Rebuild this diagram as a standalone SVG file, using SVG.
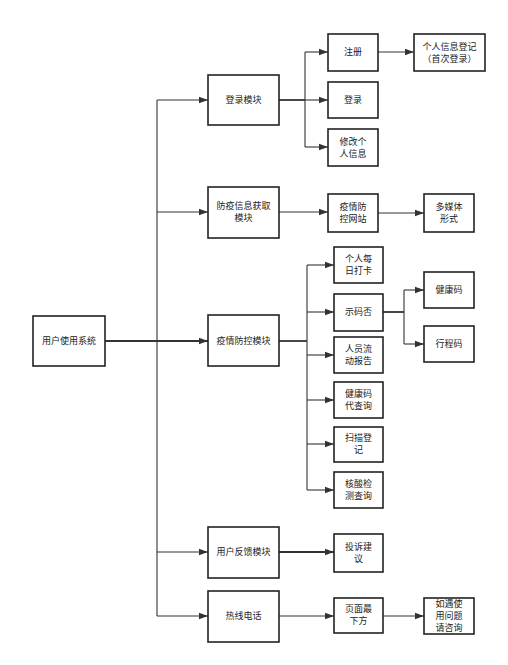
<svg xmlns="http://www.w3.org/2000/svg" width="508" height="665" viewBox="0 0 508 665">
<style>
.box{fill:#fff;stroke:#222;stroke-width:1.6}
.t{font-family:"Noto Sans CJK SC","Noto Sans",sans-serif;font-size:9px;fill:#222;text-anchor:middle}
.c{fill:none;stroke:#333;stroke-width:1.1}
.a{fill:none;stroke:#333;stroke-width:1.1;marker-end:url(#ar)}
.thick{stroke-width:1.8}
</style>
<defs>
<marker id="ar" markerUnits="userSpaceOnUse" markerWidth="10" markerHeight="8" refX="9" refY="4" orient="auto">
<path d="M0,0.8 L9,4 L0,7.2 z" fill="#333"/>
</marker>
</defs>
<rect width="508" height="665" fill="#fff"/>
<g id="connectors">
<path class="c thick" d="M105,341 H157"/>
<path class="c" d="M157,100 V616"/>
<path class="a" d="M157,100 H208"/>
<path class="a" d="M157,212 H208"/>
<path class="a thick" d="M157,341 H208"/>
<path class="a" d="M157,552 H208"/>
<path class="a" d="M157,616 H208"/>
<path class="c thick" d="M279,100 H305"/>
<path class="c" d="M305,52 V147"/>
<path class="a" d="M305,52 H328"/>
<path class="a" d="M305,100 H328"/>
<path class="a" d="M305,147 H328"/>
<path class="a" d="M378,52 H414"/>
<path class="a" d="M279,212 H328"/>
<path class="a" d="M378,213 H424"/>
<path class="c thick" d="M279,341 H307"/>
<path class="c" d="M307,265 V490"/>
<path class="a" d="M307,265 H334"/>
<path class="a" d="M307,312 H334"/>
<path class="a" d="M307,355 H334"/>
<path class="a" d="M307,400 H334"/>
<path class="a" d="M307,444 H334"/>
<path class="a" d="M307,490 H334"/>
<path class="c thick" d="M383,312 H404"/>
<path class="c" d="M404,290 V344"/>
<path class="a" d="M404,290 H424"/>
<path class="a" d="M404,344 H424"/>
<path class="a thick" d="M279,552 H334"/>
<path class="a" d="M279,616 H334"/>
<path class="a" d="M383,616 H424"/>
</g>
<g id="root"><rect class="box" x="33" y="316" width="72" height="50"/><text class="t" x="69" y="344">用户使用系统</text></g>
<g id="login"><rect class="box" x="208" y="75" width="71" height="50"/><text class="t" x="243.5" y="103">登录模块</text></g>
<g id="info"><rect class="box" x="208" y="187" width="71" height="51"/><text class="t" x="243.5" y="209">防疫信息获取</text><text class="t" x="243.5" y="221">模块</text></g>
<g id="control"><rect class="box" x="208" y="315" width="71" height="51"/><text class="t" x="243.5" y="344">疫情防控模块</text></g>
<g id="feedback"><rect class="box" x="208" y="527" width="71" height="51"/><text class="t" x="243.5" y="555">用户反馈模块</text></g>
<g id="hotline"><rect class="box" x="208" y="591" width="71" height="51"/><text class="t" x="243.5" y="619">热线电话</text></g>
<g id="register"><rect class="box" x="328" y="34" width="50" height="37"/><text class="t" x="353" y="55">注册</text></g>
<g id="signin"><rect class="box" x="328" y="82" width="50" height="36"/><text class="t" x="353" y="103">登录</text></g>
<g id="modify"><rect class="box" x="328" y="129" width="50" height="37"/><text class="t" x="353" y="145">修改个</text><text class="t" x="353" y="157">人信息</text></g>
<g id="personal"><rect class="box" x="414" y="34" width="71" height="37"/><text class="t" x="449.5" y="50">个人信息登记</text><text class="t" x="449.5" y="62">（首次登录）</text></g>
<g id="site"><rect class="box" x="328" y="194" width="50" height="38"/><text class="t" x="353" y="210">疫情防</text><text class="t" x="353" y="222">控网站</text></g>
<g id="media"><rect class="box" x="424" y="194" width="50" height="38"/><text class="t" x="449" y="210">多媒体</text><text class="t" x="449" y="222">形式</text></g>
<g id="daily"><rect class="box" x="334" y="247" width="49" height="36"/><text class="t" x="358.5" y="262">个人每</text><text class="t" x="358.5" y="274">日打卡</text></g>
<g id="code"><rect class="box" x="334" y="294" width="49" height="37"/><text class="t" x="358.5" y="315">示码否</text></g>
<g id="flow"><rect class="box" x="334" y="337" width="49" height="36"/><text class="t" x="358.5" y="352">人员流</text><text class="t" x="358.5" y="364">动报告</text></g>
<g id="proxy"><rect class="box" x="334" y="382" width="49" height="36"/><text class="t" x="358.5" y="397">健康码</text><text class="t" x="358.5" y="409">代查询</text></g>
<g id="scan"><rect class="box" x="334" y="427" width="49" height="35"/><text class="t" x="358.5" y="441">扫描登</text><text class="t" x="358.5" y="453">记</text></g>
<g id="nucleic"><rect class="box" x="334" y="472" width="49" height="36"/><text class="t" x="358.5" y="487">核酸检</text><text class="t" x="358.5" y="499">测查询</text></g>
<g id="health"><rect class="box" x="424" y="272" width="50" height="36"/><text class="t" x="449" y="293">健康码</text></g>
<g id="trip"><rect class="box" x="424" y="326" width="50" height="36"/><text class="t" x="449" y="347">行程码</text></g>
<g id="complaint"><rect class="box" x="334" y="534" width="49" height="38"/><text class="t" x="358.5" y="550">投诉建</text><text class="t" x="358.5" y="562">议</text></g>
<g id="bottom"><rect class="box" x="334" y="598" width="49" height="35"/><text class="t" x="358.5" y="612">页面最</text><text class="t" x="358.5" y="624">下方</text></g>
<g id="consult"><rect class="box" x="424" y="598" width="50" height="36"/><text class="t" x="449" y="607">如遇使</text><text class="t" x="449" y="619">用问题</text><text class="t" x="449" y="631">请咨询</text></g>
</svg>
